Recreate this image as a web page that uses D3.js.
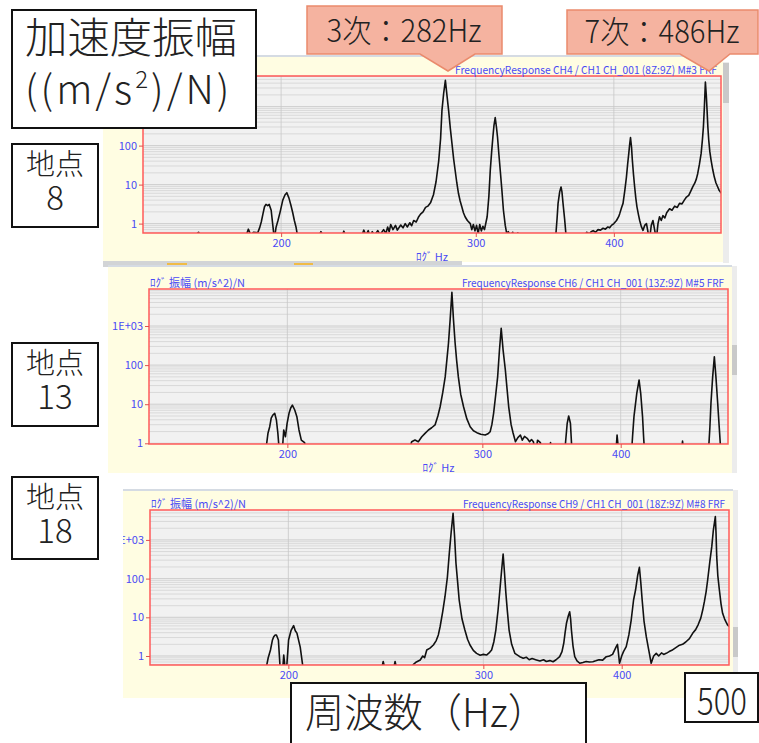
<!DOCTYPE html>
<html>
<head>
<meta charset="utf-8">
<script src="https://cdn.jsdelivr.net/npm/d3@7"></script>
<style>
  body { margin: 0; background: #fff; }
</style>
</head>
<body>
<svg id="chart" width="759" height="743"></svg>
<script>
// frequency axis (log Hz), amplitude axis (log (m/s^2)/N)
const freqDomain = [150, 500];
const xTicks = [200, 300, 400];
const yTicks = [1, 10, 100, 1000];
const yTickLabels = ['1', '10', '100', '1E+03'];
const titles = [
  'FrequencyResponse CH4 / CH1 CH_001 (8Z:9Z) M#3 FRF',
  'FrequencyResponse CH6 / CH1 CH_001 (13Z:9Z) M#5 FRF',
  'FrequencyResponse CH9 / CH1 CH_001 (18Z:9Z) M#8 FRF'
];
const pointNames = ['8', '13', '18'];
const modeNotes = ['3次：282Hz', '7次：486Hz'];

// point 8 : [Hz, amplitude]
const p8 = [
  [150,0.4],[166,0.4],[168.4,0.6],[170,0.4],[185.5,0.4],[186.8,0.72],[187.8,0.5],[188.8,0.6],[190.5,0.58],
  [191.3,0.8],[191.9,1.1],[192.6,1.8],[193.2,2.7],[193.8,3.1],[194.5,2.9],[195.1,3.1],[195.9,2.2],[196.5,1.0],
  [197.2,0.4],[197.9,0.8],[198.7,1.2],[199.6,2.0],[200.7,4.0],[201.6,5.4],[202.4,6.2],[203.3,4.5],[204.1,3.0],
  [204.9,1.9],[205.6,1.2],[206.3,0.82],[207.2,0.4],
  [215.5,0.4],[217.3,0.62],[219,0.4],[226.5,0.4],[227.9,0.64],[229.4,0.4],[236,0.4],[237.6,0.68],[238.6,0.5],
  [239.8,0.66],[240.8,0.45],[241.8,0.62],[243,0.5],[244.6,0.66],[245.8,0.52],[247.6,0.7],[248.8,0.56],[249.7,0.82],
  [250.5,0.62],[251.3,0.95],[252.5,0.7],[253.8,0.9],[254.8,0.68],[256.6,0.92],[257.8,0.78],[259,1.0],[260.1,0.82],
  [261.5,1.05],[262.5,0.88],[263.6,1.2],[265,1.1],[266.2,1.45],[267.4,1.75],[268.8,2.0],[270.2,2.6],[271.5,2.8],
  [273,3.4],[274.7,5.5],[276.2,12],[277.7,40],[278.8,150],[279.6,800],[280.6,2200],[281.6,4720],[282.5,2000],
  [283.5,800],[284.5,280],[285.5,112],[286.5,45],[287.4,23],[288.4,11],[289.4,5.9],[290.4,3.8],[291.4,2.7],
  [292.4,1.9],[293.4,1.5],[294.8,1.2],[296.6,1.0],[297.5,0.7],[298.5,0.95],[299.5,0.65],[300.5,0.9],[301.5,0.55],
  [302.5,0.95],[303.5,0.65],[304.5,0.85],[305.5,0.7],[306.5,1.1],[307.2,1.5],[308.3,5],[309.2,23],[310.1,70],
  [310.9,166],[311.6,330],[312.4,523],[313.2,300],[313.9,166],[314.8,60],[315.7,23],[316.8,7],[317.8,2.2],
  [319,0.9],[320,0.55],[321,0.62],[322.5,0.5],[324,0.6],[325.5,0.45],[327.5,0.58],[329,0.4],
  [353.8,0.4],[354.6,0.6],[355.4,1.4],[356.1,3.3],[357.3,6.5],[358.3,8.7],[359,6.5],[359.8,3.3],[361,1.3],[362.3,0.4],
  [376,0.4],[377.9,0.6],[380,0.55],[381.5,0.62],[383.1,0.66],[385,0.6],[387,0.7],[389,0.68],[391.1,0.76],
  [393,0.72],[395,0.82],[396.5,0.78],[398,0.9],[400,1.0],[402.2,1.2],[404,1.5],[404.9,1.8],[406.5,2.6],
  [407.7,3.3],[409.2,7],[410.6,15.6],[411.7,35],[412.6,62],[413.4,110],[414.1,160],[415,90],[415.7,42],
  [416.7,18],[417.7,8.7],[418.7,4.5],[419.7,2.7],[421,1.7],[422.1,1.2],[423.5,0.85],[425,0.67],[426.5,0.9],
  [428.1,1.0],[429.5,0.6],[430.9,0.4],[432.4,0.9],[433.9,1.2],[435.4,0.7],[437,0.4],[438.5,1.0],[439.9,1.5],
  [441.5,1.2],[443,1.6],[444.8,1.4],[446.5,1.9],[449.2,2.4],[451.5,2.2],[454,2.8],[456.5,2.6],[458.6,3.3],
  [461,3.2],[463.2,4.0],[465.3,4.8],[467.5,5.3],[469.5,6.8],[471.4,8.7],[473.5,11],[475,14],[476.3,19],
  [478,33],[479.7,62],[481,140],[482,300],[483,1000],[484,4270],[485,1800],[485.7,800],[486.5,300],[487.4,137],
  [488.5,70],[489.8,42],[491.5,24],[493.1,15.6],[494.8,11],[496.6,8.7],[498,7.2],[499.3,6.5],[500,6.0]
];

// point 13
const p13 = [
  [150,0.5],[190.8,0.5],[191.5,0.9],[192.1,1.8],[192.8,2.66],[193.4,4.4],[194.1,5.3],[194.8,5.85],[195.5,3.95],
  [196.1,1.8],[196.8,0.5],[197.8,0.5],[198.5,2.19],[199.2,1.47],[199.9,3.25],[200.7,5.85],[201.4,8],[202.1,9.5],
  [203.1,7.1],[204.0,4.8],[204.9,2.19],[205.9,1.21],[207.3,1.04],[208.6,0.5],
  [257,0.5],[259,1.1],[260.8,1.21],[262.6,1.1],[264.5,1.47],[266.3,1.8],[268.2,2.19],[270,2.5],[271.9,2.94],
  [273.5,5],[274.8,8.6],[276.3,20],[277.7,50],[278.7,140],[279.6,363],[280.6,1500],[281.6,7250],[282.5,1500],
  [283.5,363],[284.4,130],[285.4,50],[286.8,18],[288.5,8.6],[290.5,4.2],[292.5,2.66],[294.5,2.1],[296.6,1.87],
  [299,1.7],[301.8,1.63],[303.5,1.75],[304.9,1.98],[306,3],[307.1,5.85],[308.5,18],[309.7,50],[310.9,250],
  [312.0,873],[313.2,250],[314.7,75],[315.8,25],[316.9,8.6],[318.5,3],[319.8,1.83],[321.4,1.1],[323,1.4],
  [324.7,1.63],[326,1.2],[327.5,1.5],[329.3,1.34],[331,1.1],[332.3,1.25],[333.6,1.1],[335,0.5],[336.5,1.2],
  [338.5,1.04],[340,0.5],[345,0.5],[345.7,1.05],[346.5,0.5],
  [355.9,0.5],[356.8,1.2],[357.9,3.25],[359,5.0],[360.3,3.25],[361.6,0.5],
  [395.9,0.5],[397,1.63],[398.6,0.5],
  [409,0.5],[410,1.5],[411.2,4.8],[413.6,19],[415.6,41.6],[417,19],[418.6,4.8],[419.5,1.5],[420.5,0.5],
  [453.5,0.5],[454.9,1.14],[456.3,0.5],
  [479.9,0.5],[481.5,2.5],[482.6,10.6],[484.3,50],[486,164],[487.6,50],[489.4,10.6],[491,2.5],[492.8,0.5],[500,0.5]
];

// point 18
const p18 = [
  [150,0.4],[190.7,0.4],[191.8,0.9],[192.7,1.43],[193.5,2.6],[194.0,3.15],[194.6,3.5],[195.1,3.5],[195.9,2.6],
  [196.7,0.4],[197.6,0.4],[198.1,1.06],[198.8,0.4],[199.3,0.5],[200.1,2.6],[201.1,4.5],[202.2,6.1],[202.9,4.5],
  [203.6,3.9],[205.0,1.7],[206.4,0.4],
  [242.5,0.4],[243.6,0.72],[244.8,0.4],[248.7,0.4],[249.7,0.72],[250.8,0.4],[257.5,0.4],[259.3,0.6],[261,0.7],
  [263.1,0.79],[264.5,1.0],[265.5,0.9],[266.7,1.43],[268.5,1.6],[270.4,1.92],[272,2.5],[273.2,3.5],[274.2,5.7],
  [275.7,14],[277,34],[278.4,110],[279.5,451],[280.6,1600],[281.7,4870],[282.6,1200],[283.4,249],[284.4,80],
  [285.3,28],[287,9],[288.7,4.69],[290.3,2.7],[291.8,1.92],[293.8,1.4],[295.8,1.17],[298,1.05],[300,1.1],
  [302,1.06],[303.6,1.2],[305.2,1.43],[306.6,2.3],[307.9,4.69],[309.3,15],[310.5,50.7],[311.6,160],[312.6,433],
  [313.5,140],[314.4,41.6],[315.4,14],[316.5,4.69],[318.2,2.0],[320.3,1.17],[323.6,0.96],[326,0.88],[328,0.93],
  [330,0.8],[332,0.86],[335,0.79],[337.5,0.74],[340,0.8],[342,0.72],[344.5,0.76],[346.8,0.71],[349,0.8],
  [351.6,0.96],[353.3,1.3],[354.6,2.13],[355.6,4],[356.6,7.0],[358,11],[359,13.9],[359.7,9],[360.3,4.69],
  [361.5,1.8],[362.8,0.96],[364.5,0.75],[366.6,0.65],[369,0.68],[371.5,0.72],[374,0.7],[376.7,0.71],[379,0.75],
  [381.5,0.8],[384.5,0.78],[387.4,0.96],[390,1.0],[392.5,1.1],[395.5,1.74],[396.5,2.0],[397.3,1.2],[398.2,0.65],
  [400,1.0],[401.5,1.3],[403.8,1.74],[406,3.5],[408.0,8.5],[410,28],[411.7,50.7],[413.5,120],[415.0,195],
  [416.2,80],[417.4,28],[419,8],[421.0,3.15],[423,1.5],[425.3,0.65],[427.5,1.0],[429.8,1.17],[432,1.0],
  [434.5,1.2],[436.5,1.1],[438.8,1.17],[441.5,1.3],[444,1.4],[447,1.6],[451.1,1.9],[454,2.0],[457,2.3],
  [460.5,2.8],[463.6,3.86],[466.5,4.8],[469,6.5],[471.5,9.5],[473.4,15.4],[475,25],[476.7,45],[478.3,92],
  [480.5,280],[482.4,670],[484,1800],[486.0,4000],[486.7,1500],[487.4,369],[488.5,120],[490.1,50.7],
  [491.8,22],[493.4,12.7],[495.5,9],[497,7.5],[498.6,6.3],[500,5.8]
];

const series = [p8, p13, p18];

// screen layout of the three analyzer captures (hidden: texts covered by the overlay boxes)
const panels = [
  { frame: [103, 56, 620, 206], plot: [143, 76, 578, 157], yDomain: [0.574, 6090], vbar: [723, 62, 6, 201], thumb: [63, 40], hbar: true, showYLabel: false, showXLabel: true },
  { frame: [108, 266, 624, 207], plot: [149, 289, 579, 155], yDomain: [0.96, 8840], vbar: [732, 266, 5, 207], thumb: [345, 30], showYLabel: true, showXLabel: true },
  { frame: [123, 490, 610, 208], plot: [150, 510, 579, 155], yDomain: [0.585, 5930], vbar: [733, 490, 5, 208], thumb: [627, 30], showYLabel: true, showXLabel: false }
];

const blue = '#4a4af5';
const smallFont = "'Noto Sans CJK JP', 'Noto Sans', sans-serif";
const bigFont = "'Noto Sans CJK JP', sans-serif";

const svg = d3.select('#chart');
const defs = svg.append('defs');

function drawPanel(p, i) {
  const [fx, fy, fw, fh] = p.frame;
  const [px, py, pw, ph] = p.plot;
  defs.append('clipPath').attr('id', 'cf' + i)
    .append('rect').attr('x', fx).attr('y', fy).attr('width', fw).attr('height', fh);
  defs.append('clipPath').attr('id', 'cp' + i)
    .append('rect').attr('x', px).attr('y', py).attr('width', pw).attr('height', ph);

  const g = svg.append('g');
  g.append('rect')
    .attr('x', fx).attr('y', fy).attr('width', fw).attr('height', fh)
    .attr('fill', '#fffde2');
  g.append('line')
    .attr('x1', fx).attr('x2', fx + fw).attr('y1', fy).attr('y2', fy)
    .attr('stroke', '#d5dbe3').attr('stroke-width', 2);

  const x = d3.scaleLog().domain(freqDomain).range([px, px + pw]);
  const y = d3.scaleLog().domain(p.yDomain).range([py + ph, py]);

  const inner = g.append('g').attr('clip-path', `url(#cf${i})`);

  inner.append('rect')
    .attr('x', px).attr('y', py).attr('width', pw).attr('height', ph)
    .attr('fill', '#f1f1f1');
  inner.selectAll('.hgrid')
    .data(y.ticks())
    .join('line')
      .attr('class', 'hgrid')
      .attr('x1', px).attr('x2', px + pw)
      .attr('y1', d => y(d)).attr('y2', d => y(d))
      .attr('stroke', d => yTicks.includes(d) ? '#c8c8c8' : '#d6d6d6')
      .attr('stroke-width', 0.9);
  inner.selectAll('.vgrid')
    .data(xTicks)
    .join('line')
      .attr('class', 'vgrid')
      .attr('x1', d => x(d)).attr('x2', d => x(d))
      .attr('y1', py).attr('y2', py + ph)
      .attr('stroke', '#c8c8c8').attr('stroke-width', 0.8);

  const line = d3.line().x(d => x(d[0])).y(d => y(d[1]));
  inner.append('path')
    .datum(series[i])
    .attr('clip-path', `url(#cp${i})`)
    .attr('d', line)
    .attr('fill', 'none')
    .attr('stroke', '#111')
    .attr('stroke-width', 1.6)
    .attr('stroke-linejoin', 'round');

  inner.append('rect')
    .attr('x', px).attr('y', py).attr('width', pw).attr('height', ph)
    .attr('fill', 'none').attr('stroke', '#ff5a5a').attr('stroke-width', 1.5);

  const yAxis = inner.append('g')
    .attr('transform', `translate(${px},0)`)
    .call(d3.axisLeft(y).tickValues(p.showYLabel ? yTicks : yTicks.slice(0, 3))
      .tickFormat(d => yTickLabels[yTicks.indexOf(d)]).tickSize(4).tickPadding(2));
  const xAxis = inner.append('g')
    .attr('transform', `translate(0,${py + ph})`)
    .call(d3.axisBottom(x).tickValues(xTicks).tickFormat(d3.format('d')).tickSize(4).tickPadding(2));
  [yAxis, xAxis].forEach(a => {
    a.select('.domain').remove();
    a.selectAll('.tick line').attr('stroke', '#e05050');
    a.selectAll('.tick text').attr('fill', blue).style('font-size', '11px').style('font-family', smallFont);
  });

  inner.append('text')
    .attr('x', px + pw - 4).attr('y', py - 2.5)
    .attr('text-anchor', 'end')
    .attr('fill', blue).style('font-size', '11px').style('font-family', smallFont)
    .attr('textLength', 262).attr('lengthAdjust', 'spacingAndGlyphs')
    .text(titles[i]);
  if (p.showYLabel) {
    inner.append('text')
      .attr('x', px + 1).attr('y', py - 2.5)
      .attr('fill', blue).style('font-size', '11px').style('font-family', smallFont)
      .text('ﾛｸﾞ 振幅 (m/s^2)/N');
  }
  if (p.showXLabel) {
    inner.append('text')
      .attr('x', px + pw / 2).attr('y', py + ph + 28)
      .attr('text-anchor', 'middle')
      .attr('fill', blue).style('font-size', '11px').style('font-family', smallFont)
      .text('ﾛｸﾞ Hz');
  }

  // scrollbars of the capture
  const [vx, vy, vw, vh] = p.vbar;
  g.append('rect').attr('x', vx).attr('y', vy).attr('width', vw).attr('height', vh).attr('fill', '#ececec');
  g.append('rect').attr('x', vx).attr('y', p.thumb[0]).attr('width', vw).attr('height', p.thumb[1]).attr('fill', '#c9c9c9');
  if (p.hbar) {
    g.append('rect').attr('x', fx).attr('y', fy + fh - 1).attr('width', 359).attr('height', 6).attr('fill', '#d2d4d6');
    [[167, 20], [294, 19]].forEach(([ox, ow]) => {
      g.append('rect').attr('x', ox).attr('y', fy + fh + 1).attr('width', ow).attr('height', 3).attr('fill', '#f0bb45');
    });
  }
}

panels.forEach(drawPanel);

// annotation boxes laid over the captures
function box(x0, y0, w, h) {
  svg.append('rect')
    .attr('x', x0).attr('y', y0).attr('width', w).attr('height', h)
    .attr('fill', '#fff').attr('stroke', '#111').attr('stroke-width', 2);
}
function label(txt, x0, y0, size, len) {
  const t = svg.append('text')
    .attr('x', x0).attr('y', y0)
    .attr('text-anchor', 'middle')
    .attr('fill', '#222')
    .style('font-family', bigFont).style('font-size', size + 'px').style('font-weight', 300)
    .text(txt);
  if (len) t.attr('textLength', len).attr('lengthAdjust', 'spacingAndGlyphs');
  return t;
}

box(12, 10, 244, 118);
const unitLabel = svg.append('text')
  .attr('fill', '#222')
  .style('font-family', bigFont).style('font-weight', 300);
unitLabel.append('tspan')
  .attr('x', 131).attr('y', 53).attr('text-anchor', 'middle')
  .style('font-size', '42px')
  .attr('textLength', 212).attr('lengthAdjust', 'spacingAndGlyphs')
  .text('加速度振幅');
unitLabel.append('tspan')
  .attr('x', 25).attr('y', 104)
  .style('font-size', '40px').style('letter-spacing', '3px')
  .text('((m/s');
unitLabel.append('tspan').attr('dy', -16).style('font-size', '24px').style('letter-spacing', '3px').text('2');
unitLabel.append('tspan').attr('dy', 16).style('font-size', '40px').style('letter-spacing', '3px').text(')/N)');

[[144, 83], [343, 83], [477, 82]].forEach(([by, bh], k) => {
  box(12, by, 86, bh);
  const t = svg.append('text')
    .attr('text-anchor', 'middle')
    .attr('fill', '#222')
    .style('font-family', bigFont).style('font-weight', 300);
  t.append('tspan').attr('x', 55).attr('y', by + 31).style('font-size', '29px').text('地点');
  t.append('tspan').attr('x', 55).attr('y', by + 66).style('font-size', '33px').text(pointNames[k]);
});

// mode callouts
const calloutShapes = [
  'M307,6 H502 V54 H475 L448,71 L420,54 H307 Z',
  'M567,10 H758 V54 H730 L709,71 L680,54 H567 Z'
];
calloutShapes.forEach(d => {
  svg.append('path').attr('d', d)
    .attr('fill', '#f5b3a0').attr('stroke', '#ea8a6c').attr('stroke-width', 1.5);
});
label(modeNotes[0], 404, 42, 31, 155);
label(modeNotes[1], 662, 43, 31, 155);

box(291, 683, 295, 70);
label('周波数（Hz）', 426, 727, 40, 242);
box(685, 673, 73, 49);
label('500', 722, 715, 38, 50);
</script>
</body>
</html>
